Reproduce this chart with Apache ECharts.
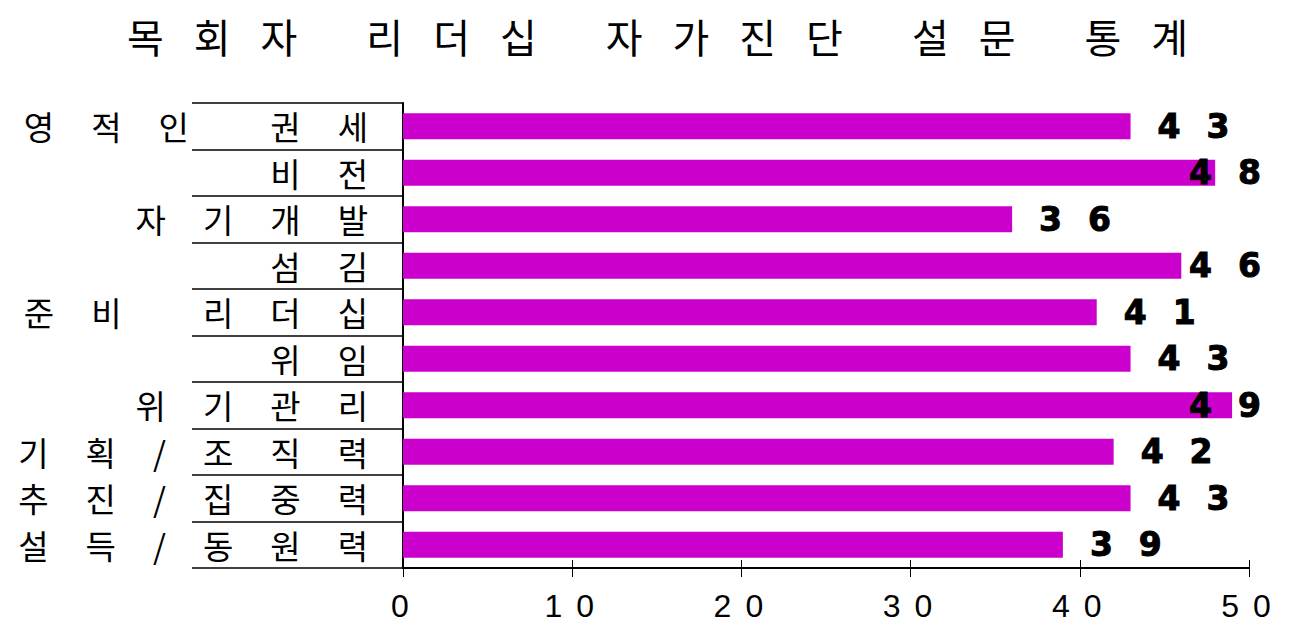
<!DOCTYPE html>
<html><head><meta charset="utf-8">
<script src="https://cdn.jsdelivr.net/npm/echarts@6/dist/echarts.min.js"></script>
<style>
html,body{margin:0;padding:0;background:#fff}
#chart{width:1289px;height:626px}
#chart text[style*="TitleFace"]{letter-spacing:30px}
#chart text[style*="CatFace"]{letter-spacing:37px}
#chart text[style*="ValFace"]{letter-spacing:26px}
#chart text[style*="AxFace"]{letter-spacing:14px}
</style>
</head><body>
<div id="chart"></div>
<script>
var titleText = '목회자 리더십 자가진단 설문 통계';
var categories = ['영적인 권세','비전','자기개발','섬김','준비 리더십','위임','위기관리','기획/조직력','추진/집중력','설득/동원력'];
var values = [43,48,36,46,41,43,49,42,43,39];
var axisMin = 0, axisMax = 50, axisStep = 10;

var VAL_SP = 26;
var chart = echarts.init(document.getElementById('chart'), null, {renderer:'svg'});
chart.setOption({
  backgroundColor:'#fff',
  animation:false,
  title:{text:titleText,left:122,top:11,
    textStyle:{fontFamily:"'Noto Sans CJK KR', TitleFace",fontSize:40,fontWeight:'normal',color:'#000'}},
  grid:{left:403,right:40,top:103,bottom:58,containLabel:false},
  xAxis:[{
    type:'value',min:axisMin,max:axisMax,interval:axisStep,
    axisLine:{show:true,lineStyle:{color:'#000',width:2}},
    axisTick:{show:true,length:9,lineStyle:{color:'#000',width:1}},
    splitLine:{show:false},
    axisLabel:{margin:22,color:'#000',fontSize:32,padding:[0,0,0,8],fontFamily:"'Liberation Sans', AxFace"}
  },{
    type:'value',position:'bottom',min:axisMin,max:axisMax,interval:axisStep,
    axisLine:{show:false},
    axisTick:{show:true,inside:true,length:8,lineStyle:{color:'#000',width:1}},
    splitLine:{show:false},axisLabel:{show:false}
  }],
  yAxis:{
    type:'category',data:categories,inverse:true,
    axisLine:{show:true,lineStyle:{color:'#000',width:2}},
    axisTick:{show:true,length:211,lineStyle:{color:'#000',width:1.5}},
    axisLabel:{margin:-2,color:'#000',fontSize:33,fontFamily:"'Noto Sans CJK KR', CatFace"}
  },
  series:[{
    type:'bar',data:values,xAxisIndex:0,
    barCategoryGap:'44%',
    itemStyle:{color:'#CC00CC'},
    label:{show:true,position:'right',distance:27,color:'#000',fontSize:33,fontWeight:'bold',
      textBorderColor:'#000',textBorderWidth:1,
      fontFamily:"'DejaVu Sans', ValFace"},
    labelLayout:function(p){
      var r = p.labelRect;
      var n = String(p.text).length;
      var w = r.width + n*VAL_SP;
      if (r.x + w > 1288) {
        return {x:1288 - w, y:r.y + r.height/2, align:'left', verticalAlign:'middle'};
      }
      return {};
    }
  }]
});
</script>
</body></html>
